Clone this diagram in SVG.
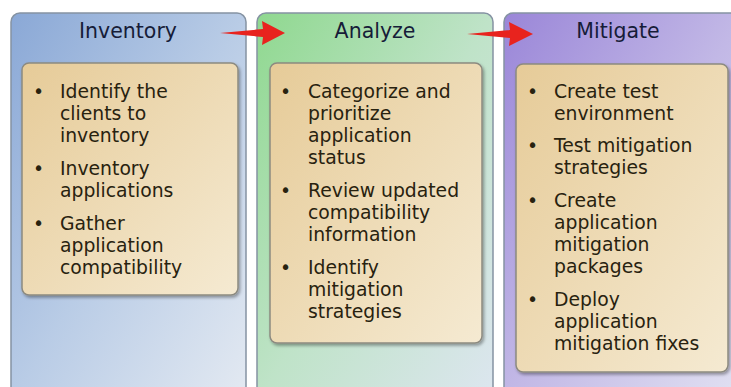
<svg xmlns="http://www.w3.org/2000/svg" width="731" height="387" viewBox="0 0 731 387">
<defs>
<linearGradient id="gBlue" x1="0" y1="0" x2="1" y2="1">
<stop offset="0" stop-color="#8aa8d6"/><stop offset="0.5" stop-color="#b9cce6"/><stop offset="1" stop-color="#e4eaf2"/>
</linearGradient>
<linearGradient id="gGreen" x1="0" y1="0" x2="1" y2="1">
<stop offset="0" stop-color="#8fd88f"/><stop offset="0.5" stop-color="#bfe3c8"/><stop offset="1" stop-color="#dde6f0"/>
</linearGradient>
<linearGradient id="gPurple" x1="0" y1="0" x2="1" y2="1">
<stop offset="0" stop-color="#9a86d8"/><stop offset="0.5" stop-color="#c2b8e6"/><stop offset="1" stop-color="#e2e2f2"/>
</linearGradient>
<linearGradient id="gTan" x1="0" y1="0" x2="1" y2="1">
<stop offset="0" stop-color="#e6cb98"/><stop offset="1" stop-color="#f5ead2"/>
</linearGradient>
<filter id="sh" x="-10%" y="-10%" width="120%" height="120%">
<feDropShadow dx="1.5" dy="2" stdDeviation="1.5" flood-color="#000" flood-opacity="0.35"/>
</filter>
</defs>
<style>
.panel{stroke:#8593a3;stroke-width:1.5}
.inner{fill:url(#gTan);stroke:#8c8a80;stroke-width:1.5;filter:url(#sh)}
.title{font-family:"DejaVu Sans",Verdana,sans-serif;font-size:20.5px;fill:#161c38;text-anchor:middle}
.t{font-family:"DejaVu Sans",Verdana,sans-serif;font-size:18.8px;fill:#28220f}
.arrow{fill:#e8231e}
</style>
<rect width="731" height="387" fill="#ffffff"/>

<g id="inventory">
<rect class="panel" x="11" y="13" width="235" height="390" rx="9" fill="url(#gBlue)"/>
<text class="title" x="128" y="38">Inventory</text>
<rect class="inner" x="22" y="63" width="216" height="232" rx="7"/>
<g class="t">
<text x="33" y="98">•</text>
<text x="60" y="98">Identify the</text>
<text x="60" y="120">clients to</text>
<text x="60" y="142">inventory</text>
<text x="33" y="175">•</text>
<text x="60" y="175">Inventory</text>
<text x="60" y="197">applications</text>
<text x="33" y="230">•</text>
<text x="60" y="230">Gather</text>
<text x="60" y="252">application</text>
<text x="60" y="274">compatibility</text>
</g>
</g>

<g id="analyze">
<rect class="panel" x="257" y="13" width="236" height="390" rx="9" fill="url(#gGreen)"/>
<text class="title" x="375" y="38">Analyze</text>
<rect class="inner" x="270" y="63" width="212" height="280" rx="7"/>
<g class="t">
<text x="280" y="98">•</text>
<text x="308" y="98">Categorize and</text>
<text x="308" y="120">prioritize</text>
<text x="308" y="142">application</text>
<text x="308" y="164">status</text>
<text x="280" y="197">•</text>
<text x="308" y="197">Review updated</text>
<text x="308" y="219">compatibility</text>
<text x="308" y="241">information</text>
<text x="280" y="274">•</text>
<text x="308" y="274">Identify</text>
<text x="308" y="296">mitigation</text>
<text x="308" y="318">strategies</text>
</g>
</g>

<g id="mitigate">
<rect class="panel" x="504" y="13" width="240" height="390" rx="9" fill="url(#gPurple)"/>
<text class="title" x="618" y="38">Mitigate</text>
<rect class="inner" x="516" y="64" width="212" height="308" rx="7"/>
<g class="t">
<text x="527" y="98">•</text>
<text x="554" y="98">Create test</text>
<text x="554" y="120">environment</text>
<text x="527" y="152">•</text>
<text x="554" y="152">Test mitigation</text>
<text x="554" y="174">strategies</text>
<text x="527" y="207">•</text>
<text x="554" y="207">Create</text>
<text x="554" y="229">application</text>
<text x="554" y="251">mitigation</text>
<text x="554" y="273">packages</text>
<text x="527" y="306">•</text>
<text x="554" y="306">Deploy</text>
<text x="554" y="328">application</text>
<text x="554" y="350">mitigation fixes</text>
</g>
</g>

<g id="connectors">
<path class="arrow" d="M220,33 L263,29 L262,21 L285,33 L262,45 L263,37 Z"/>
<path class="arrow" d="M467,34 L510,30 L509,22 L533,34 L509,46 L510,38 Z"/>
</g>
</svg>
